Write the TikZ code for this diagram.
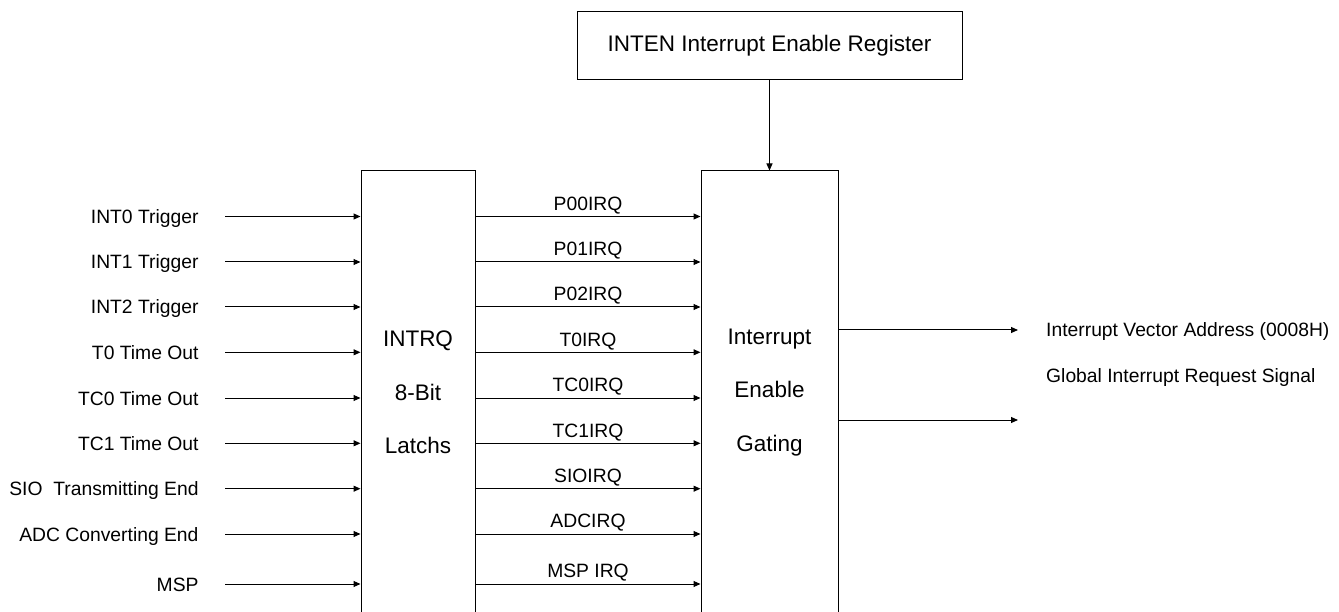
\documentclass[tikz,border=0pt]{standalone}
\usepackage{fontspec}
\setmainfont{Liberation Sans}
\usetikzlibrary{arrows.meta}
\begin{document}
\begin{tikzpicture}[x=1pt,y=-1pt, line width=1pt,
  arr/.style={-{Triangle[length=7pt,width=6pt]}},
  box/.style={draw, inner sep=0pt},
  small/.style={font=\fontsize{19.3}{23}\selectfont, inner sep=0pt},
  big/.style={font=\fontsize{22.5}{53.3}\selectfont, inner sep=0pt}]
\clip (0,0) rectangle (1339,612);
\useasboundingbox (0,0) rectangle (1339,612);

% boxes
\node[box, big, minimum width=385pt, minimum height=68pt] (inten) at (769.5,46) {INTEN Interrupt Enable Register};
\node[box, minimum width=114pt, minimum height=479pt] (latch) at (418,410.5) {};
\node[box, minimum width=137pt, minimum height=479pt] (gate) at (769.5,410.5) {};
\node[big, align=center] (latchtxt) at (418,392.5) {INTRQ\\8-Bit\\Latchs};
\node[big, align=center] (gatetxt) at (769.5,392.5) {Interrupt\\Enable\\Gating};

\draw[arr] (inten.south) -- (gate.north);

% inputs
\foreach \y/\t [count=\i] in {216.5/INT0 Trigger, 262/INT1 Trigger, 307/INT2 Trigger,
    352.3/T0 Time Out, 398/TC0 Time Out, 443.3/TC1 Time Out,
    488.7/SIO~ Transmitting End, 534/ADC Converting End, 584/MSP} {
  \node[small, anchor=base east] (lab\i) at (199,\y+7) {\t};
  \coordinate (s\i) at (225,\y);
  \draw[arr] (s\i) -- (s\i -| latch.west);
}

% latch to gating
\foreach \y/\t [count=\i] in {216.5/P00IRQ, 262/P01IRQ, 307/P02IRQ,
    352.3/T0IRQ, 398/TC0IRQ, 443.3/TC1IRQ, 488.7/SIOIRQ, 534/ADCIRQ, 584/MSP IRQ} {
  \coordinate (m\i) at (588,\y);
  \node[small, anchor=base] (irq\i) at (588,\y-6.2) {\t};
  \draw[arr] (m\i -| latch.east) -- (m\i -| gate.west);
}

% outputs
\coordinate (o1) at (1018,330);
\coordinate (o2) at (1018,420);
\draw[arr] (o1 -| gate.east) -- (o1);
\draw[arr] (o2 -| gate.east) -- (o2);
\node[small, anchor=base west] (vec) at (1045.7,337) {Interrupt Vector Address (0008H)};
\node[small, anchor=base west] (glob) at (1045.7,382) {Global Interrupt Request Signal};
\end{tikzpicture}
\end{document}
